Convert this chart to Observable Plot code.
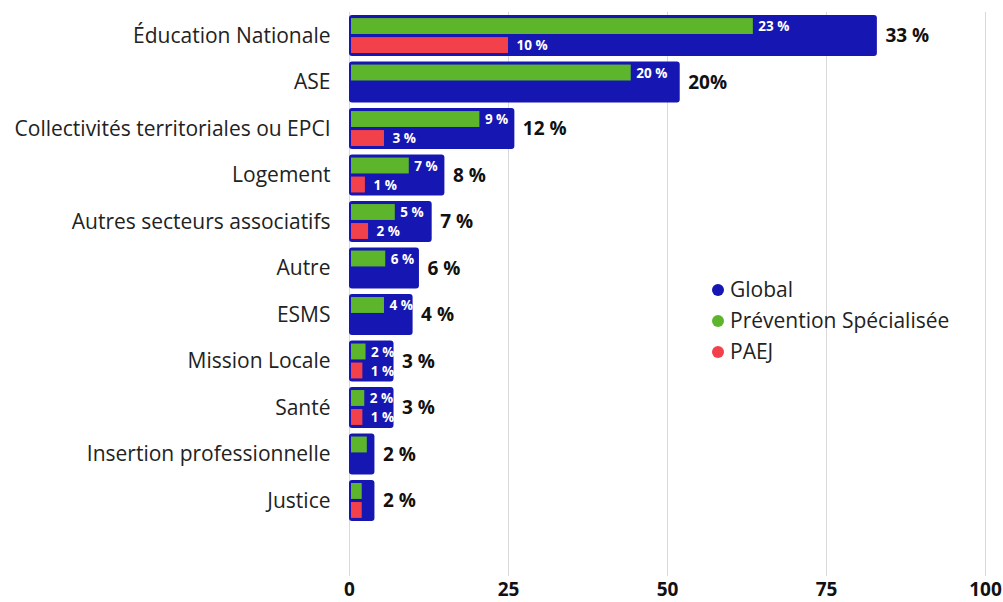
<!DOCTYPE html>
<html>
<head>
<meta charset="utf-8">
<script src="https://cdn.jsdelivr.net/npm/d3@7"></script>
<script src="https://cdn.jsdelivr.net/npm/@observablehq/plot@0.6"></script>
<style>
  html, body { margin: 0; padding: 0; background: #fff; }
  #wrap { position: relative; width: 1003px; height: 602px; font-family: "Open Sans", sans-serif; }
  #legend { position: absolute; left: 712px; top: 274px; font-size: 21px; color: #222; line-height: 31px; }
  #legend .item { display: flex; align-items: center; gap: 6px; }
  #legend .sw { width: 12px; height: 12px; border-radius: 50%; display: inline-block; }
</style>
</head>
<body>
<div id="wrap">
  <div id="chart"></div>
  <div id="legend"></div>
</div>
<script>
const categories = ["Éducation Nationale", "ASE", "Collectivités territoriales ou EPCI", "Logement", "Autres secteurs associatifs", "Autre", "ESMS", "Mission Locale", "Santé", "Insertion professionnelle", "Justice"];
const globalValues = [83, 52, 26, 15, 13, 11, 10, 7, 7, 4, 4];
const globalLabels = ["33 %", "20%", "12 %", "8 %", "7 %", "6 %", "4 %", "3 %", "3 %", "2 %", "2 %"];
const psValues = [63.5, 44.3, 20.5, 9.4, 7.2, 5.7, 5.5, 2.6, 2.4, 2.8, 2.0];
const psLabels = ["23 %", "20 %", "9 %", "7 %", "5 %", "6 %", "4 %", "2 %", "2 %", "", ""];
const paejValues = [25, 0, 5.5, 2.5, 3.0, 0, 0, 2.1, 2.1, 0, 2.0];
const paejLabels = ["10 %", "", "3 %", "1 %", "2 %", "", "", "1 %", "1 %", "", ""];
const xTicks = [0, 25, 50, 75, 100];
const seriesNames = ["Global", "Prévention Spécialisée", "PAEJ"];
const seriesColors = ["#1616b2", "#5db52c", "#f2414b"];

const rows = categories.map((c, i) => ({
  cat: c, global: globalValues[i], gLabel: globalLabels[i],
  ps: psValues[i], psLabel: psLabels[i],
  paej: paejValues[i], paejLabel: paejLabels[i]
}));

const chart = Plot.plot({
  width: 1003,
  height: 602,
  marginLeft: 349,
  marginRight: 18,
  marginTop: 12,
  marginBottom: 26,
  style: { fontFamily: "Open Sans, sans-serif", background: "transparent" },
  x: { domain: [0, 100], ticks: xTicks, label: null },
  y: { domain: categories, range: [9.5, 526.5], padding: 0.12, round: false, label: null },
  marks: [
    Plot.gridX(xTicks, { stroke: "#d9d9d9", strokeOpacity: 1, strokeWidth: 1 }),
    Plot.barX(rows, { x: "global", y: "cat", fill: seriesColors[0], rx: 3 }),
    Plot.barX(rows.filter(d => d.ps > 0), { x1: 0, x2: "ps", y: "cat", fill: seriesColors[1], insetLeft: 2, insetTop: 3, insetBottom: 22 }),
    Plot.barX(rows.filter(d => d.paej > 0), { x1: 0, x2: "paej", y: "cat", fill: seriesColors[2], insetLeft: 2, insetTop: 22, insetBottom: 3 }),
    Plot.text(rows.filter(d => d.psLabel), { x: "ps", y: "cat", text: "psLabel", dx: 5, dy: -9, textAnchor: "start", fill: "white", fontWeight: "bold", fontSize: 13.5 }),
    Plot.text(rows.filter(d => d.paejLabel), { x: "paej", y: "cat", text: "paejLabel", dx: 8, dy: 10, textAnchor: "start", fill: "white", fontWeight: "bold", fontSize: 13.5 }),
    Plot.text(rows, { x: "global", y: "cat", text: "gLabel", dx: 8, textAnchor: "start", fill: "#111", fontWeight: "bold", fontSize: 19 }),
    Plot.axisY({ tickSize: 0, tickPadding: 19, fontSize: 21, fill: "#222" }),
    Plot.axisX({ ticks: xTicks, tickSize: 0, tickPadding: 6, fontSize: 19, fontWeight: "bold", fill: "#111", label: null })
  ]
});
document.getElementById("chart").appendChild(chart);

const legend = document.getElementById("legend");
seriesNames.forEach((n, i) => {
  const it = document.createElement("div");
  it.className = "item";
  const sw = document.createElement("span");
  sw.className = "sw";
  sw.style.background = seriesColors[i];
  const tx = document.createElement("span");
  tx.textContent = n;
  it.appendChild(sw); it.appendChild(tx);
  legend.appendChild(it);
});
</script>
</body>
</html>
